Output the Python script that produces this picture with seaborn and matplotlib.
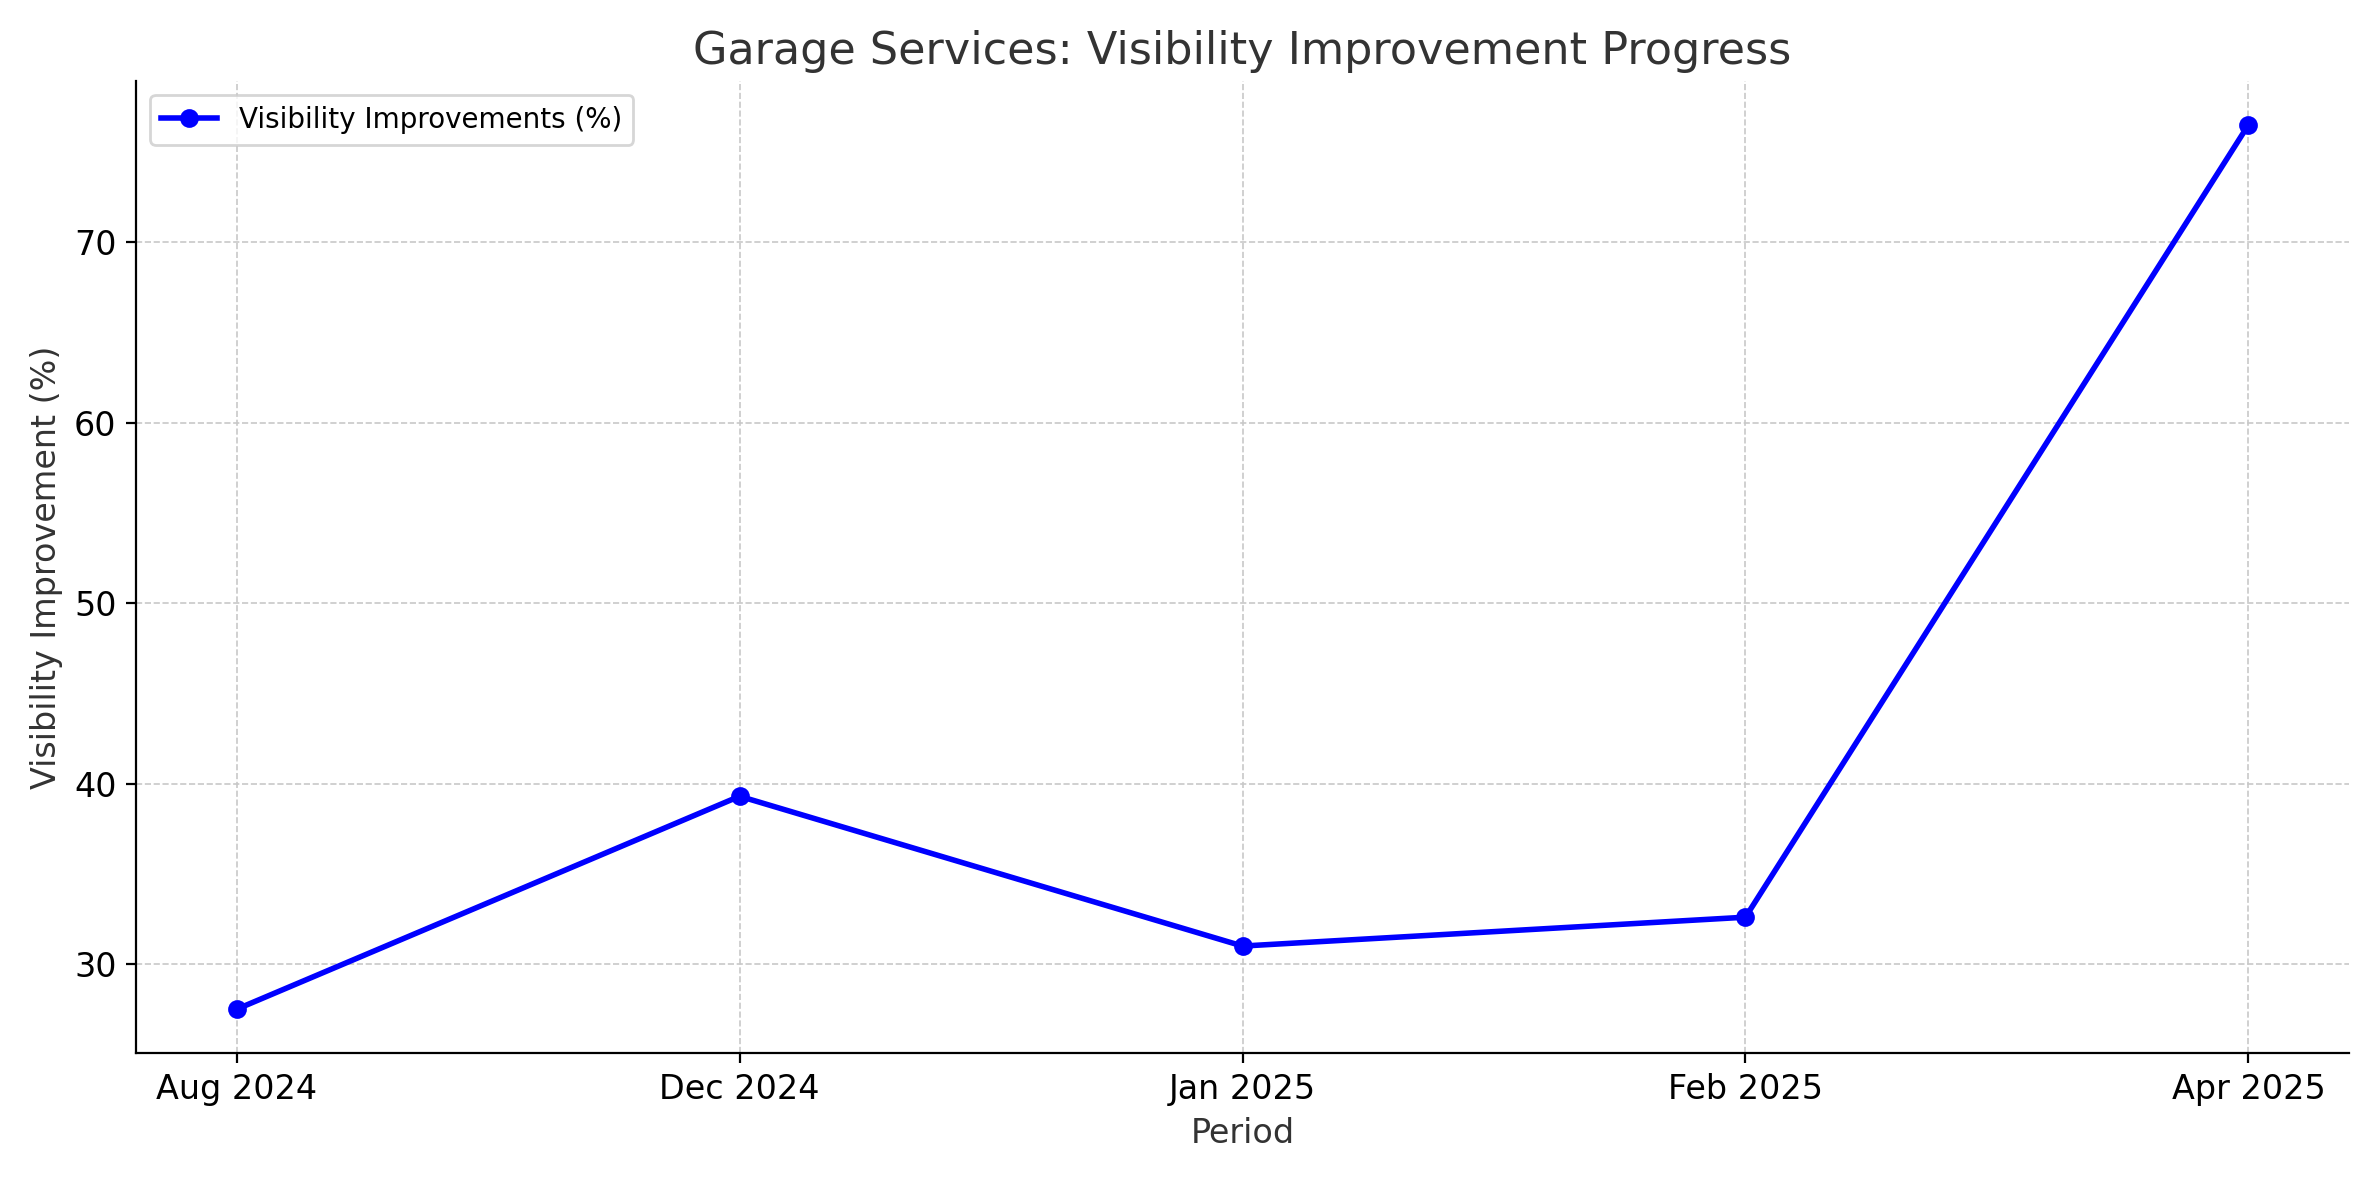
import matplotlib
matplotlib.use("Agg")
import matplotlib.pyplot as plt
import seaborn as sns
import pandas as pd

periods = ["Aug 2024", "Dec 2024", "Jan 2025", "Feb 2025", "Apr 2025"]
improvements = [27.5, 39.3, 31.0, 32.6, 76.5]

df = pd.DataFrame({"Period": periods, "Improvement": improvements})

fig, ax = plt.subplots(figsize=(11.895, 5.9), dpi=200)
sns.lineplot(data=df, x="Period", y="Improvement", ax=ax, color="blue",
             linewidth=2, marker="o", markersize=6, markeredgecolor="blue",
             sort=False, label="Visibility Improvements (%)")

ax.set_title("Garage Services: Visibility Improvement Progress", fontsize=16, color="#333333")
ax.set_xlabel("Period", fontsize=12, color="#333333")
ax.set_ylabel("Visibility Improvement (%)", fontsize=12, color="#333333")
ax.tick_params(labelsize=12)
ax.grid(True, linestyle="--", linewidth=0.6, color="#c8c8c8")
ax.set_yticks([30, 40, 50, 60, 70])
ax.spines["top"].set_visible(False)
ax.spines["right"].set_visible(False)
ax.legend(loc="upper left", fontsize=10)

plt.tight_layout()
plt.savefig("out.png", dpi=200)
plt.close()
